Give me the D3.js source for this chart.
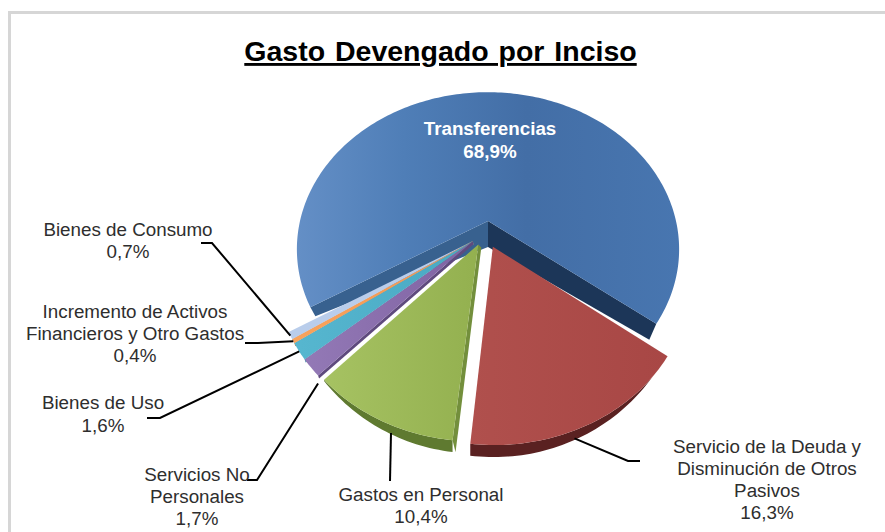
<!DOCTYPE html>
<html>
<head>
<meta charset="utf-8">
<script src="https://cdnjs.cloudflare.com/ajax/libs/d3/7.8.5/d3.min.js"></script>
<style>
  html, body { margin: 0; padding: 0; background: #fff; }
  svg { display: block; }
  text { font-family: "Liberation Sans", Arial, sans-serif; }
</style>
</head>
<body>
<svg id="chart" width="885" height="532"></svg>
<script>
// Chart content
const chartTitle = "Gasto Devengado por Inciso";
const categories = [
  "Transferencias",
  "Servicio de la Deuda y Disminución de Otros Pasivos",
  "Gastos en Personal",
  "Servicios No Personales",
  "Bienes de Uso",
  "Incremento de Activos Financieros y Otro Gastos",
  "Bienes de Consumo"
];
const shares = [68.9, 16.3, 10.4, 1.7, 1.6, 0.4, 0.7];
const shareLabels = ["68,9%", "16,3%", "10,4%", "1,7%", "1,6%", "0,4%", "0,7%"];

// Wrapped label lines
const labelLines = [
  ["Transferencias"],
  ["Servicio de la Deuda y", "Disminución de Otros", "Pasivos"],
  ["Gastos en Personal"],
  ["Servicios No", "Personales"],
  ["Bienes de Uso"],
  ["Incremento de Activos", "Financieros y Otro Gastos"],
  ["Bienes de Consumo"]
];

// Pie plane: first slice starts at 239 degrees clockwise from the top
const startDeg = 239;
const centre = { x: 488, y: 221 };
const radiusX = 188, radiusY = 152, perspective = 0.18;

// How far each slice is pulled out of the pie, in pie-plane units
const pullOut = [[0, 0], [0.025, 0.165], [-0.05, 0.15], [-0.08, 0.13], [-0.08, 0.13], [-0.08, 0.13], [-0.08, 0.13]];

// Face and side colours
const topFill = ["url(#gBlue)", "url(#gRed)", "url(#gGreen)", "url(#gPurple)", "url(#gTeal)", "url(#gOrange)", "#b9cdeb"];
const rimFill = ["#2c4d75", "#5a2121", "#5f7a30", "#5c4679", "#317f94", "#b56a2a", "#8c9fbd"];
const wallFill = ["#38618f", "#6e2a28", "#738f3c", "#5f4a7e", "#3a8ba1", "#c27a3a", "#9db0cc"];
const rimDepth = 12;

// Label placement: text centre, first line centre, leader elbow and end, where the leader meets the rim
const labelLayout = [
  { x: 490, y: 129, lineGap: 23 },
  { x: 767, y: 447, lineGap: 22.2, elbow: [628, 461], tail: [640, 461], anchor: 0.56, drop: 8 },
  { x: 421, y: 495, lineGap: 22, elbow: [390, 481], tail: [390, 481], anchor: 0.42, drop: 8 },
  { x: 197, y: 475, lineGap: 22, elbow: [257, 480], tail: [247, 480], anchor: 0, drop: 8 },
  { x: 103, y: 403, lineGap: 23, elbow: [160, 418], tail: [147, 418], anchor: 0.5, drop: 0 },
  { x: 135, y: 312, lineGap: 22, elbow: [258, 343], tail: [245, 343], anchor: 0.5, drop: 0 },
  { x: 128, y: 230, lineGap: 22, elbow: [212, 243], tail: [201, 243], anchor: 0.5, drop: 0 }
];

const svg = d3.select("#chart");
const width = +svg.attr("width"), height = +svg.attr("height");

// Gradients for the top faces
const defs = svg.append("defs");
function gradient(id, x1, x2, stops) {
  const g = defs.append("linearGradient").attr("id", id)
    .attr("gradientUnits", "userSpaceOnUse")
    .attr("x1", x1).attr("y1", 0).attr("x2", x2).attr("y2", 0);
  stops.forEach(([o, c]) => g.append("stop").attr("offset", o).attr("stop-color", c));
}
gradient("gBlue", 297, 680, [[0, "#648fc6"], [0.28, "#4f7eb7"], [0.6, "#436ea6"], [1, "#4876b0"]]);
gradient("gRed", 468, 666, [[0, "#b0504d"], [1, "#a84745"]]);
gradient("gGreen", 325, 480, [[0, "#a6c262"], [1, "#93b04f"]]);
gradient("gPurple", 305, 475, [[0, "#9379b6"], [1, "#7f62a2"]]);
gradient("gTeal", 300, 475, [[0, "#56b6cf"], [1, "#48a8c2"]]);
gradient("gOrange", 295, 475, [[0, "#f9a35c"], [1, "#ef9550"]]);

// Frame
svg.append("path")
  .attr("d", `M9.5,${height} V12.5 H${width}`)
  .attr("fill", "none").attr("stroke", "#d6d6d6").attr("stroke-width", 3);

// Title
svg.append("text")
  .attr("x", 440.5).attr("y", 61)
  .attr("text-anchor", "middle")
  .attr("font-size", 28.5).attr("font-weight", "bold")
  .attr("text-decoration", "underline")
  .attr("fill", "#000")
  .attr("word-spacing", 2)
  .text(chartTitle);

// Slice angles
const pie = d3.pie().sort(null)
  .startAngle(startDeg * Math.PI / 180)
  .endAngle((startDeg + 360) * Math.PI / 180);
const arcs = pie(shares);

// Project a point of the pie plane, given by angle and radial fraction, onto the page
function project(angle, frac, pull) {
  const u = Math.sin(angle) * frac + pull[0];
  const v = -Math.cos(angle) * frac + pull[1];
  const s = 1 / (1 - perspective * v);
  return [centre.x + radiusX * u * s, centre.y + radiusY * v * s];
}

// Visible thickness of the outer rim: full at the front, none toward the sides
function rimThickness(angle) {
  const facing = -Math.cos(angle);
  return rimDepth * Math.max(0, Math.min(1, (facing - 0.7) / 0.3));
}

const line = d3.line();
function arcPoints(a0, a1, pull, lowered) {
  const n = Math.max(2, Math.ceil(Math.abs(a1 - a0) / 0.02));
  return d3.range(n + 1).map(i => {
    const a = a0 + (a1 - a0) * i / n;
    const p = project(a, 1, pull);
    return [p[0], p[1] + (lowered ? rimThickness(a) : 0)];
  });
}

const layer = svg.append("g");

// Notch walls of the large slice: deep near the hub, thin at the rim
function hubWalls(d, pull) {
  const hub = project(0, 0, pull);
  const hubLow = [hub[0], hub[1] + 26];
  const a = project(d.startAngle, 1, pull);
  const b = project(d.endAngle, 1, pull);
  const aLow = [a[0] + 5, a[1] + 9];
  const bLow = [b[0] - 7, b[1] + 16];
  layer.append("path").attr("d", line([hub, a, aLow, hubLow]) + "Z").attr("fill", "#38618f");
  layer.append("path").attr("d", line([hub, b, bLow, hubLow]) + "Z").attr("fill", "#1c3658");
}

function drawTop(d, i) {
  const pull = pullOut[i];
  const pts = [project(0, 0, pull), ...arcPoints(d.startAngle, d.endAngle, pull, false)];
  layer.append("path").attr("class", "slice").attr("d", line(pts) + "Z").attr("fill", topFill[i]);
}

function drawRim(d, i) {
  const pull = pullOut[i];
  const top = arcPoints(d.startAngle, d.endAngle, pull, false);
  const low = arcPoints(d.endAngle, d.startAngle, pull, true);
  layer.append("path").attr("d", line(top.concat(low)) + "Z").attr("fill", rimFill[i]);
}

// Side wall along one straight edge of a pulled slice, shifted so it shows beside the face
function drawEdgeWall(i, edgeAngle, shift, rimDrop) {
  const pull = pullOut[i];
  const hub = project(0, 0, pull);
  const rim = project(edgeAngle, 1, pull);
  const pts = [hub, rim, [rim[0] + shift[0], rim[1] + rimDrop], [hub[0] + shift[0], hub[1] + shift[1]]];
  layer.append("path").attr("d", line(pts) + "Z").attr("fill", wallFill[i]);
}

// Back to front: large slice, then the pulled slices
hubWalls(arcs[0], pullOut[0]);
drawTop(arcs[0], 0);

drawRim(arcs[1], 1);
drawTop(arcs[1], 1);

drawRim(arcs[2], 2);
drawEdgeWall(2, arcs[2].startAngle, [3, 3], rimDepth);
drawTop(arcs[2], 2);

[6, 5, 4, 3].forEach(i => {
  drawEdgeWall(i, arcs[i].startAngle, [1, 3], 3);
  drawTop(arcs[i], i);
});

// Leader lines run from the slice rim through an elbow to the label
labelLayout.forEach((l, i) => {
  if (!l.elbow) return;
  const d = arcs[i];
  const angle = d.startAngle + (d.endAngle - d.startAngle) * l.anchor;
  const rim = project(angle, 1, pullOut[i]);
  svg.append("path")
    .attr("d", line([[rim[0], rim[1] + l.drop], l.elbow, l.tail]))
    .attr("fill", "none").attr("stroke", "#000").attr("stroke-width", 2);
});

// Category labels with their shares
labelLayout.forEach((l, i) => {
  const rows = labelLines[i].concat(shareLabels[i]);
  const t = svg.append("text")
    .attr("text-anchor", "middle")
    .attr("font-size", 18.8)
    .attr("font-weight", i === 0 ? "bold" : "normal")
    .attr("fill", i === 0 ? "#fff" : "#2e2e2e");
  rows.forEach((r, k) => {
    t.append("tspan")
      .attr("x", l.x)
      .attr("y", l.y - 1 + k * l.lineGap)
      .attr("dy", "0.35em")
      .text(r);
  });
});
</script>
</body>
</html>
